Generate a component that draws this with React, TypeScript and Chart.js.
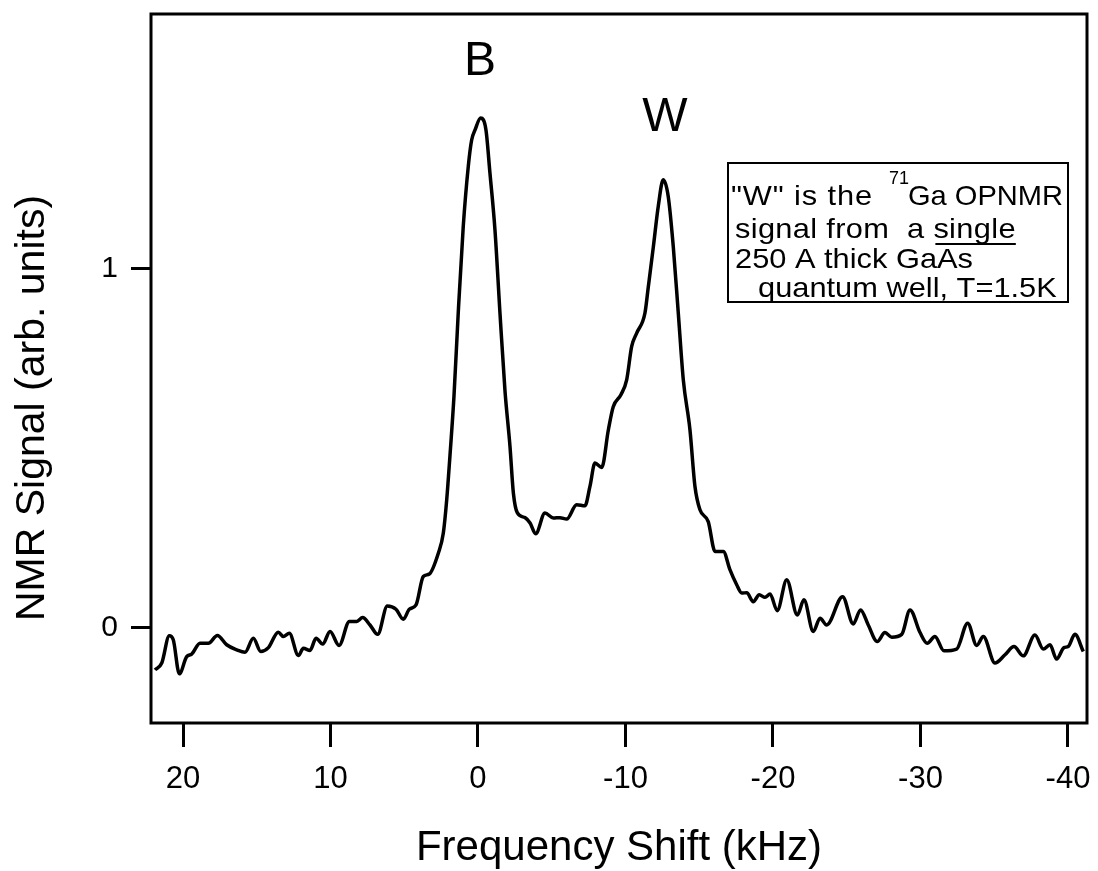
import React, { useEffect, useRef } from "react";
import { Chart, registerables } from "chart.js";

Chart.register(...registerables);

// ---- data ----
const freqKHz = [
  21.9, 21.44, 20.93, 20.66, 20.25, 19.75, 19.41, 18.85, 18.28, 17.67, 17.04, 16.36, 15.8, 15.23, 14.73, 14.21,
  13.54, 13.2, 12.79, 12.18, 11.84, 11.39, 10.98, 10.53, 10.03, 9.42, 8.72, 8.22, 7.82, 7.32, 6.8, 6.15, 5.56,
  5.06, 4.66, 4.2, 3.71, 3.3, 2.69, 2.35, 2.12, 1.9, 1.63, 1.34, 1.0, 0.66, 0.43, 0.2, -0.18, -0.54, -0.81,
  -1.15, -1.49, -1.83, -2.17, -2.4, -2.67, -3.19, -3.53, -3.91, -4.54, -5.11, -5.56, -6.01, -6.69, -7.25,
  -7.59, -7.93, -8.39, -8.84, -9.17, -9.7, -10.08, -10.42, -10.76, -11.32, -11.55, -11.89, -12.22, -12.56,
  -12.9, -13.24, -13.58, -13.92, -14.37, -14.71, -15.05, -15.61, -16.07, -16.63, -17.08, -17.54, -17.88,
  -18.22, -18.66, -19.07, -19.46, -19.8, -20.29, -20.93, -21.65, -22.1, -22.73, -23.19, -23.64, -24.72,
  -25.44, -25.94, -26.46, -27.07, -27.59, -28.05, -28.73, -29.29, -29.97, -30.46, -30.98, -31.59, -32.45,
  -33.2, -33.81, -34.26, -35.05, -35.73, -36.34, -36.97, -37.76, -38.33, -38.78, -39.23, -39.73, -40.02,
  -40.47, -41.04,
];
const nmrSignal = [
  -0.117, -0.098, -0.022, -0.033, -0.128, -0.08, -0.073, -0.043, -0.043, -0.021, -0.047, -0.061, -0.068, -0.029,
  -0.066, -0.055, -0.012, -0.024, -0.015, -0.077, -0.057, -0.063, -0.029, -0.045, -0.01, -0.049, 0.018, 0.018,
  0.029, 0.008, -0.018, 0.061, 0.052, 0.024, 0.052, 0.064, 0.143, 0.15, 0.208, 0.264, 0.357, 0.48, 0.644, 0.877,
  1.118, 1.285, 1.359, 1.387, 1.42, 1.387, 1.267, 1.109, 0.877, 0.66, 0.505, 0.375, 0.32, 0.307, 0.292, 0.262,
  0.32, 0.306, 0.307, 0.303, 0.343, 0.34, 0.394, 0.459, 0.447, 0.552, 0.616, 0.65, 0.691, 0.784, 0.821, 0.877,
  0.951, 1.062, 1.174, 1.248, 1.201, 1.062, 0.877, 0.691, 0.552, 0.394, 0.329, 0.296, 0.213, 0.213, 0.162,
  0.12, 0.097, 0.098, 0.073, 0.092, 0.085, 0.094, 0.048, 0.134, 0.036, 0.078, -0.01, 0.027, 0.008, 0.087,
  0.011, 0.05, 0.008, -0.038, -0.013, -0.026, -0.018, 0.05, -0.013, -0.043, -0.024, -0.064, -0.059, 0.013,
  -0.049, -0.024, -0.098, -0.075, -0.052, -0.078, -0.02, -0.059, -0.047, -0.087, -0.055, -0.052, -0.018,
  -0.066,
];
const xTicks = [20, 10, 0, -10, -20, -30, -40];
const yTicks = [0, 1];
const xRange = [-41.29, 22.17];
const yRange = [-0.265, 1.71];
const xTitle = "Frequency Shift (kHz)";
const yTitle = "NMR Signal (arb. units)";
const peakNames = ["B", "W"];
const peakX = [-0.14, -12.68];
const peakLabelY = [1.577, 1.421];
const noteLine1 = ['"W" is the', "71", "Ga OPNMR"];
const noteLine2 = ["signal from  a ", "single"];
const noteLine3 = "250 A thick GaAs";
const noteLine4 = "quantum well, T=1.5K";

const FONT = "'Liberation Sans', Arial, Helvetica, sans-serif";

function stretchedText(
  ctx: CanvasRenderingContext2D,
  text: string,
  x: number,
  y: number,
  size: number,
  sx: number,
  spacing = 0,
  maxW?: number
) {
  ctx.save();
  ctx.translate(x, y);
  ctx.scale(sx, 1);
  ctx.font = `${size}px ${FONT}`;
  (ctx as any).letterSpacing = `${spacing}px`;
  if (maxW) ctx.fillText(text, 0, 0, maxW / sx);
  else ctx.fillText(text, 0, 0);
  const w = Math.min(ctx.measureText(text).width, maxW ? maxW / sx : Infinity) * sx;
  ctx.restore();
  return w;
}

export default function App() {
  const ref = useRef<HTMLCanvasElement>(null);

  useEffect(() => {
    const canvas = ref.current;
    if (!canvas) return;

    const overlay = {
      id: "overlay",
      afterDraw(chart: any) {
        const ctx = chart.ctx as CanvasRenderingContext2D;
        const { left, top, right, bottom } = chart.chartArea;
        const xs = chart.scales.x;
        const ys = chart.scales.y;
        ctx.save();
        // frame
        ctx.strokeStyle = "#000";
        ctx.fillStyle = "#000";
        ctx.lineWidth = 3;
        ctx.strokeRect(left, top, right - left, bottom - top);

        // y title
        ctx.save();
        ctx.translate(33, 408);
        ctx.rotate(-Math.PI / 2);
        ctx.font = `41px ${FONT}`;
        ctx.textAlign = "center";
        ctx.textBaseline = "middle";
        ctx.fillText(yTitle, 0, 0);
        ctx.restore();

        // peak labels
        ctx.font = `48px ${FONT}`;
        ctx.textAlign = "center";
        ctx.textBaseline = "middle";
        peakNames.forEach((n, i) => {
          ctx.fillText(n, xs.getPixelForValue(peakX[i]), ys.getPixelForValue(peakLabelY[i]));
        });

        // note box
        ctx.lineWidth = 2;
        ctx.strokeRect(728, 163, 340, 139);
        ctx.textAlign = "left";
        ctx.textBaseline = "alphabetic";
        const S = 28;
        const SX = 1.1;
        stretchedText(ctx, noteLine1[0], 731, 205, S, SX, 0.8);
        stretchedText(ctx, noteLine1[1], 889, 184, 18, 1.0);
        stretchedText(ctx, noteLine1[2], 908, 205, S, SX, 0, 155);

        const w0 = stretchedText(ctx, noteLine2[0], 735, 238, S, SX, 0.3);
        const w1 = stretchedText(ctx, noteLine2[1], 735 + w0, 238, S, SX, 0.3);
        ctx.beginPath();
        ctx.moveTo(735 + w0 + 2, 244);
        ctx.lineTo(735 + w0 + w1, 244);
        ctx.lineWidth = 2;
        ctx.stroke();

        stretchedText(ctx, noteLine3, 735, 268, S, SX);
        stretchedText(ctx, noteLine4, 758, 297, S, SX);
        ctx.restore();
      },
    };

    const chart = new Chart(canvas, {
      type: "line",
      data: {
        datasets: [
          {
            data: freqKHz.map((x, i) => ({ x, y: nmrSignal[i] })),
            borderColor: "#000",
            borderWidth: 3.5,
            pointRadius: 0,
            fill: false,
            cubicInterpolationMode: "monotone",
          },
        ],
      },
      options: {
        animation: false,
        responsive: false,
        devicePixelRatio: 1,
        layout: { padding: { top: 14, right: 11, left: 0, bottom: 0 } },
        plugins: { legend: { display: false }, tooltip: { enabled: false } },
        scales: {
          x: {
            type: "linear",
            reverse: true,
            min: xRange[0],
            max: xRange[1],
            afterBuildTicks: (s: any) => {
              s.ticks = xTicks.map((v) => ({ value: v }));
            },
            afterFit: (s: any) => {
              s.height = 148;
              s.paddingLeft = 0;
              s.paddingRight = 0;
              s.paddingTop = 0;
              s.paddingBottom = 0;
            },
            ticks: {
              autoSkip: false,
              maxRotation: 0,
              color: "#000",
              padding: 14,
              font: { family: FONT, size: 31 },
              callback: (v: any) => String(v),
            },
            grid: {
              drawOnChartArea: false,
              drawTicks: true,
              tickLength: 24,
              tickWidth: 3,
              tickColor: "#000",
              color: "#000",
            },
            border: { display: false },
            title: {
              display: true,
              text: xTitle,
              color: "#000",
              font: { family: FONT, size: 42 },
              padding: { top: 0, bottom: -3 },
            },
          },
          y: {
            type: "linear",
            min: yRange[0],
            max: yRange[1],
            afterBuildTicks: (s: any) => {
              s.ticks = yTicks.map((v) => ({ value: v }));
            },
            afterFit: (s: any) => {
              s.width = 151;
              s.paddingTop = 0;
              s.paddingBottom = 0;
              s.paddingLeft = 0;
              s.paddingRight = 0;
            },
            ticks: {
              color: "#000",
              padding: 13,
              font: { family: FONT, size: 30 },
              callback: (v: any) => String(v),
            },
            grid: {
              drawOnChartArea: false,
              drawTicks: true,
              tickLength: 20,
              tickWidth: 3,
              tickColor: "#000",
              color: "#000",
            },
            border: { display: false },
          },
        },
      },
      plugins: [overlay],
    } as any);

    return () => chart.destroy();
  }, []);

  return (
    <div style={{ position: "absolute", left: 0, top: 0, width: 1098, height: 871, background: "#fff" }}>
      <canvas ref={ref} width={1098} height={871} style={{ display: "block", width: 1098, height: 871 }} />
    </div>
  );
}
